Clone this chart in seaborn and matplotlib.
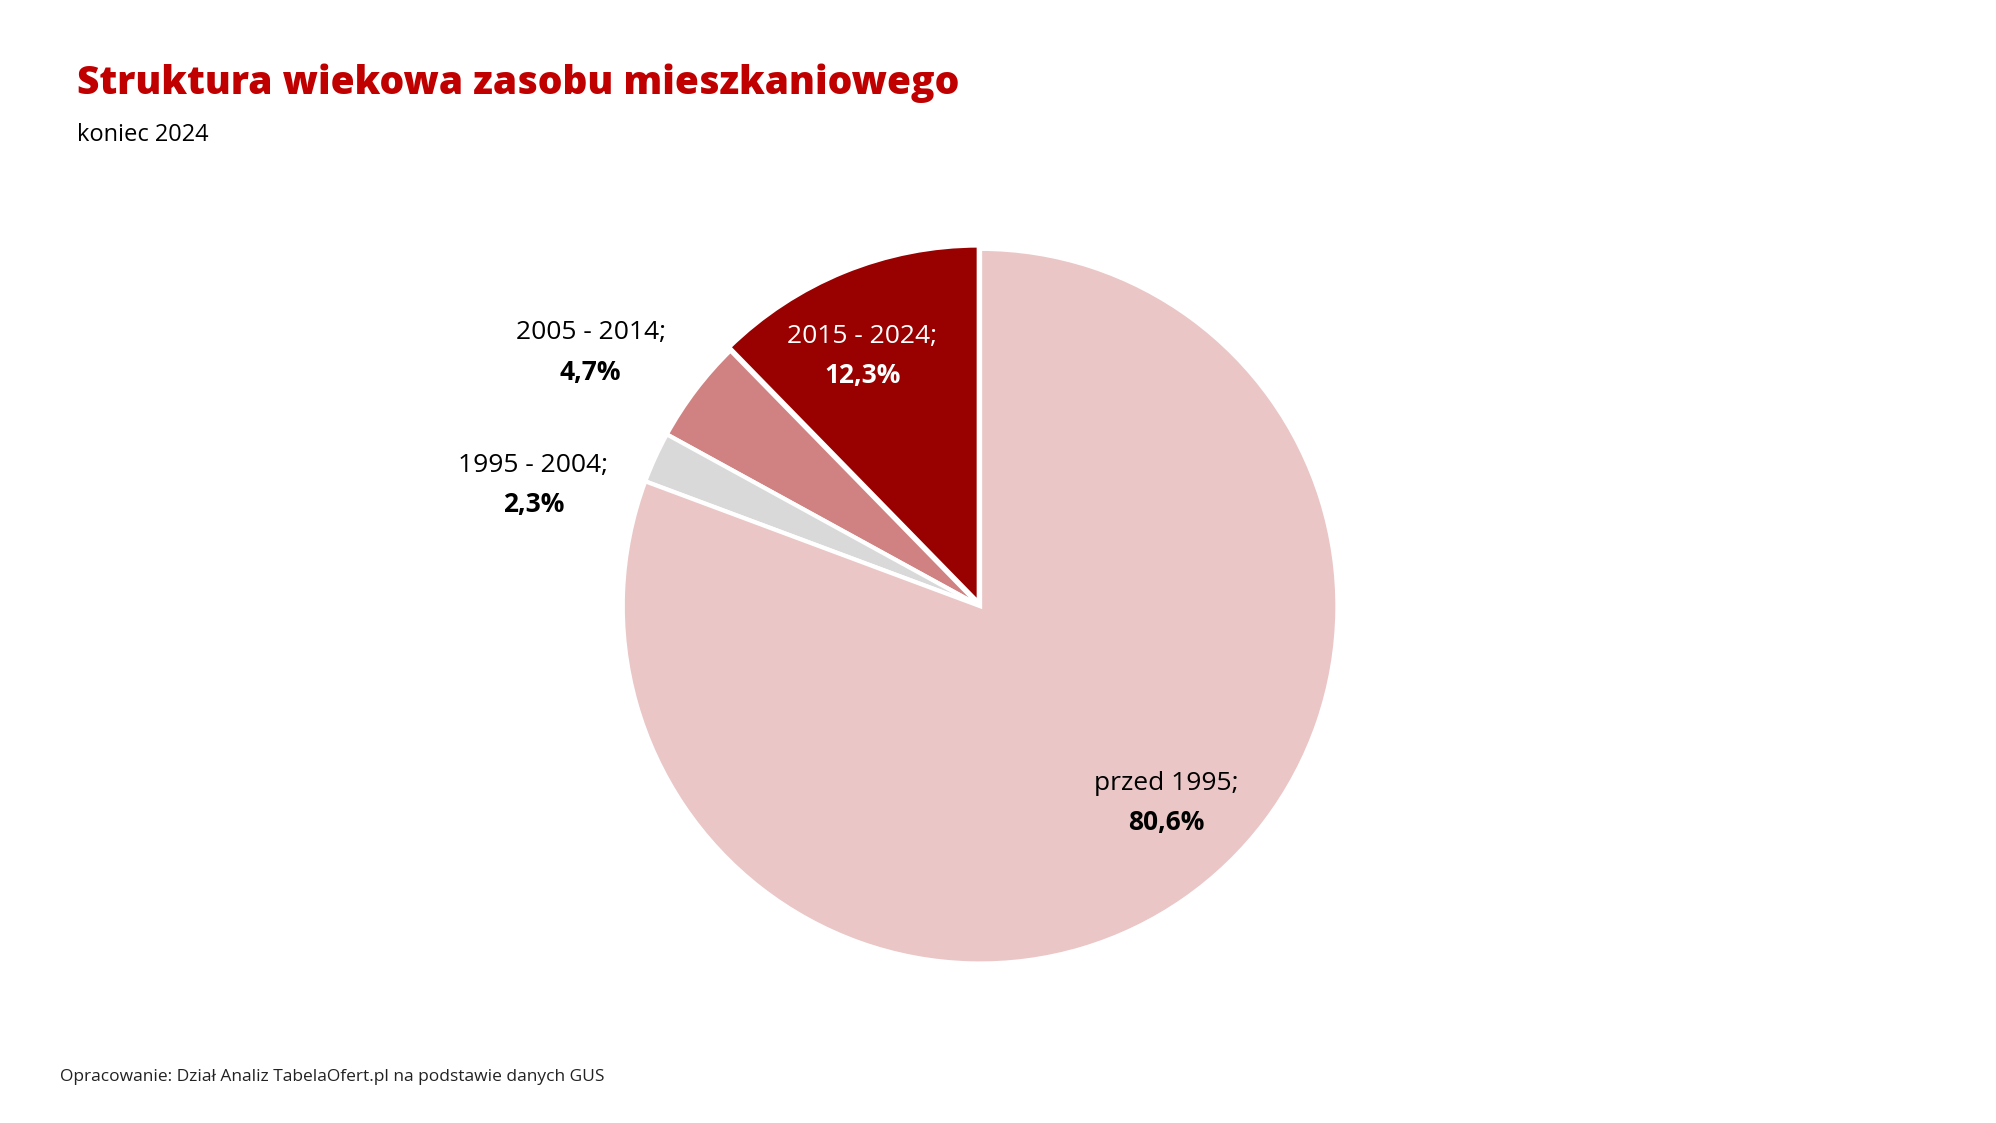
import seaborn as sns
import matplotlib.pyplot as plt

sns.set_theme(style="white")
plt.rcParams['font.family'] = ['Open Sans', 'DejaVu Sans']

# data
periods = ["2015 - 2024", "2005 - 2014", "1995 - 2004", "przed 1995"]
shares = [12.3, 4.7, 2.3, 80.6]
colors = ["#990000", "#d08282", "#d9d9d9", "#eac6c6"]
label_colors = ["white", "black", "black", "black"]
# label positions in units of pie radius
label_pos = [(-0.33, 0.70), (-1.09, 0.71), (-1.25, 0.34), (0.52, -0.55)]

W, H = 1996, 1123
fig = plt.figure(figsize=(W / 100, H / 100), dpi=100)

cx, cy, r = 766 / 1560, 1 - 475 / 880, 280 / 880
ax = fig.add_axes([cx - r * 2 * H / W, cy - 2 * r, 4 * r * H / W, 4 * r])
ax.pie(shares, colors=colors, startangle=90, counterclock=True,
       explode=[0.01, 0, 0, 0],
       wedgeprops=dict(edgecolor="white", linewidth=3))
ax.set_xlim(-2, 2)
ax.set_ylim(-2, 2)
ax.set_aspect("equal")
ax.axis("off")

for p, s, c, (x, y) in zip(periods, shares, label_colors, label_pos):
    val = f"{s:.1f}%".replace(".", ",")
    ax.text(x, y + 0.055, f"{p};", ha="center", va="center", fontsize=19, color=c)
    ax.text(x, y - 0.055, val, ha="center", va="center", fontsize=19,
            color=c, fontweight="bold")

fig.text(60 / 1560, 1 - 65 / 880, "Struktura wiekowa zasobu mieszkaniowego",
         fontsize=28, fontweight="heavy", color="#c00000", va="center")
fig.text(60 / 1560, 1 - 106 / 880, "koniec 2024", fontsize=17, color="black", va="center")
fig.text(47 / 1560, 1 - 844 / 880,
         "Opracowanie: Dział Analiz TabelaOfert.pl na podstawie danych GUS",
         fontsize=12.5, color="#222222", va="center")

fig.savefig("out.png", dpi=100, facecolor="white")
